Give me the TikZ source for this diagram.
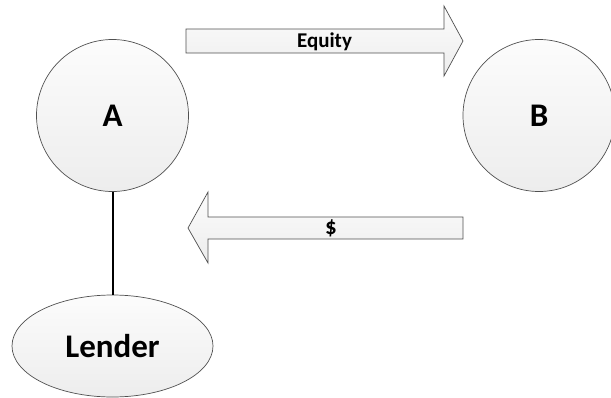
\documentclass[tikz,border=0pt]{standalone}
\usepackage{fontspec}
\setmainfont{Carlito}
\usetikzlibrary{shapes.geometric}
\definecolor{shapetop}{HTML}{FCFCFC}
\definecolor{shapebot}{HTML}{EDEDED}
\definecolor{shapeline}{HTML}{505050}
\tikzset{
  ent/.style={draw=shapeline, line width=0.7pt, top color=shapetop, bottom color=shapebot, font=\bfseries\fontsize{33}{33}\selectfont},
  flow/.style={draw=shapeline, line width=0.7pt, top color=shapetop, bottom color=shapebot},
  flowtext/.style={font=\bfseries\fontsize{21}{21}\selectfont, inner sep=0pt}
}
\begin{document}
\begin{tikzpicture}[x=1pt,y=-1pt]
\useasboundingbox (0,0) rectangle (611,397);
\node[ent, circle, minimum size=152pt, inner sep=0pt] (A) at (112.5,115.5) {A};
\node[ent, circle, minimum size=152pt, inner sep=0pt] (B) at (539,115.5) {B};
\node[ent, ellipse, minimum width=201pt, minimum height=102pt, inner sep=0pt, font=\bfseries\fontsize{33}{33}\selectfont] (L) at (112.5,346) {Lender};
\draw[line width=2pt] (A) -- (L);
\draw[flow] (186,29) -- (444,29) -- (444,6) -- (463,41) -- (444,76) -- (444,53) -- (186,53) -- cycle;
\node[flowtext] (eq) at (324.5,42) {Equity};
\draw[flow] (463,217) -- (208,217) -- (208,192) -- (188,228) -- (208,263) -- (208,239) -- (463,239) -- cycle;
\node[flowtext, font=\bfseries\fontsize{23}{23}\selectfont] (usd) at (331,228) {\$};
\end{tikzpicture}
\end{document}
